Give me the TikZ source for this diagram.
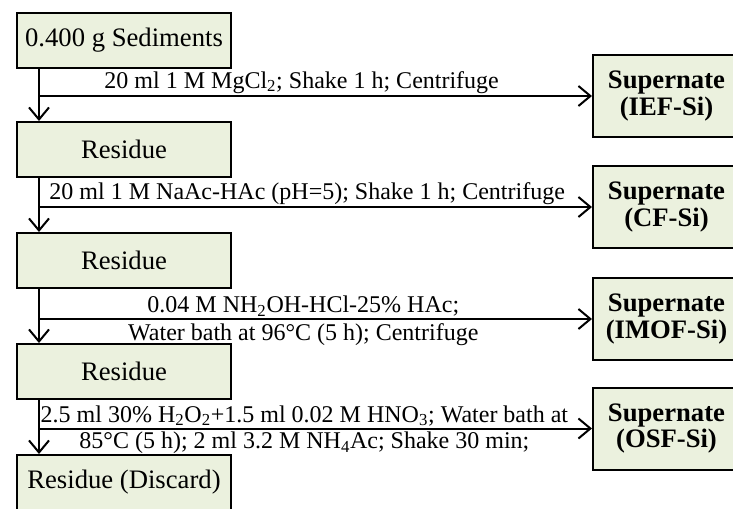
\documentclass[tikz,border=0pt]{standalone}
\usepackage{fontspec}
\setmainfont{Liberation Serif}
\usetikzlibrary{arrows.meta}
\definecolor{boxfill}{RGB}{235,241,222}

\begin{document}
\begin{tikzpicture}[x=0.75pt,y=-0.75pt,
            residuebox/.style={rectangle, draw=black, fill=boxfill, line width=1.5pt, minimum width=160.5pt, minimum height=41.25pt, inner sep=0pt, font=\fontsize{20}{22}\selectfont},
            supbox/.style={rectangle, draw=black, fill=boxfill, line width=1.5pt, minimum width=110.25pt, minimum height=61.5pt, inner sep=0pt, align=center, font=\fontsize{20}{20}\selectfont\bfseries},
            flow/.style={line width=1.5pt, -{Straight Barb[length=9pt,width=15pt,line width=1.5pt]}},
            steplabel/.style={font=\fontsize{18}{20}\selectfont, inner sep=1pt},
            ]
            \useasboundingbox (0,0) rectangle (733,508);
            \clip (0,0) rectangle (733,508);

            %Nodes
            \node[residuebox]   (sed)   at (124,40.5)   {0.400 g Sediments};
            \node[residuebox]   (res1)  at (124,149.5)  {Residue};
            \node[residuebox]   (res2)  at (124,260.5)  {Residue};
            \node[residuebox]   (res3)  at (124,371.5)  {Residue};
            \node[residuebox]   (res4)  at (124,482.5)  {Residue (Discard)};

            \node[supbox]       (ief)   at (666.5,96)   {Supernate\\(IEF-Si)};
            \node[supbox]       (cf)    at (666.5,207)  {Supernate\\(CF-Si)};
            \node[supbox]       (imof)  at (666.5,319)  {Supernate\\(IMOF-Si)};
            \node[supbox]       (osf)   at (666.5,428.5) {Supernate\\(OSF-Si)};

            %Lines
            \draw[flow] ([xshift=17.25pt]sed.south west) -- ([xshift=17.25pt]res1.north west);
            \draw[flow] ([xshift=17.25pt]res1.south west) -- ([xshift=17.25pt]res2.north west);
            \draw[flow] ([xshift=17.25pt]res2.south west) -- ([xshift=17.25pt]res3.north west);
            \draw[flow] ([xshift=17.25pt]res3.south west) -- ([xshift=17.25pt]res4.north west);

            \draw[flow] ([xshift=17.25pt]sed.south west |- ief.west) -- node[steplabel, above, pos=0.475] (lab1) {20 ml 1 M MgCl\textsubscript{2}; Shake 1 h; Centrifuge} (ief.west);
            \draw[flow] ([xshift=17.25pt]res1.south west |- cf.west) -- node[steplabel, above, pos=0.485] (lab2) {20 ml 1 M NaAc-HAc (pH=5); Shake 1 h; Centrifuge} (cf.west);
            \draw[flow] ([xshift=17.25pt]res2.south west |- imof.west) -- node[steplabel, above, pos=0.478] (lab3a) {0.04 M NH\textsubscript{2}OH-HCl-25\% HAc;}
                node[steplabel, below, inner sep=3pt, pos=0.478] (lab3b) {Water bath at 96°C (5 h); Centrifuge} (imof.west);
            \draw[flow] ([xshift=17.25pt]res3.south west |- osf.west) -- node[steplabel, above, pos=0.48] (lab4a) {2.5 ml 30\% H\textsubscript{2}O\textsubscript{2}+1.5 ml 0.02 M HNO\textsubscript{3}; Water bath at}
                node[steplabel, below, inner sep=2pt, pos=0.48] (lab4b) {85°C (5 h); 2 ml 3.2 M NH\textsubscript{4}Ac; Shake 30 min;} (osf.west);

        \end{tikzpicture}
\end{document}
